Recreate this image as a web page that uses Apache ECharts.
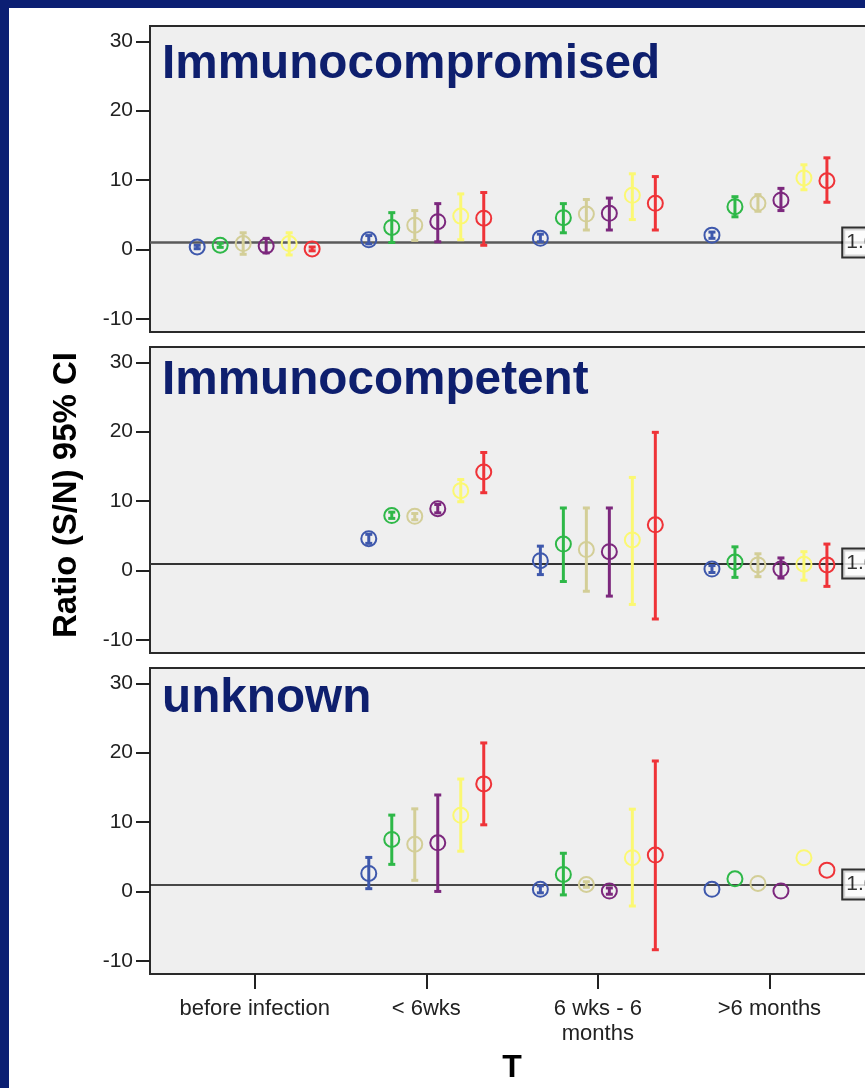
<!DOCTYPE html>
<html><head><meta charset="utf-8">
<script src="https://cdn.jsdelivr.net/npm/echarts@6/dist/echarts.min.js"></script>
<style>
html,body{margin:0;padding:0;background:#0b1f73;overflow:hidden;width:865px;height:1088px;}
#bg{position:absolute;left:9px;top:8px;width:856px;height:1080px;background:#fff;}
#chart{position:absolute;left:0;top:0;width:960px;height:1088px;}
</style></head><body><div id="bg"></div><div id="chart"></div>
<script>
// ---------------- data ----------------
const categories = ['before infection', '< 6wks', '6 wks - 6\nmonths', '>6 months'];
const seriesNames = ['Series 1', 'Series 2', 'Series 3', 'Series 4', 'Series 5', 'Series 6'];
const seriesColors = ['#3E58AC', '#2EB848', '#D3CE97', '#7C287D', '#FBF873', '#EF3338'];
const panelTitles = ['Immunocompromised', 'Immunocompetent', 'unknown'];
const yTicks = [-10, 0, 10, 20, 30];
const refValue = 1;
const refLabel = '1.0';

// Immunocompromised: [series][category]
const compMean = [
  [0.36, 1.38, 1.6, 2.06],
  [0.6, 3.17, 4.57, 6.16],
  [0.85, 3.5, 5.1, 6.65],
  [0.5, 4.0, 5.2, 7.1],
  [0.85, 4.8, 7.8, 10.3],
  [0.07, 4.5, 6.65, 9.9]
];
const compLow = [
  [0.1, 0.8, 1.1, 1.6],
  [0.3, 1.0, 2.4, 4.7],
  [-0.7, 1.3, 2.8, 5.5],
  [-0.5, 1.1, 2.8, 5.6],
  [-0.8, 1.4, 4.3, 8.6],
  [-0.2, 0.6, 2.8, 6.8]
];
const compHigh = [
  [0.6, 2.0, 2.2, 2.5],
  [0.9, 5.3, 6.6, 7.6],
  [2.4, 5.6, 7.2, 7.9],
  [1.6, 6.6, 7.4, 8.8],
  [2.4, 8.0, 10.9, 12.2],
  [0.35, 8.2, 10.5, 13.2]
];

// Immunocompetent
const competMean = [
  [null, 4.57, 1.4, 0.2],
  [null, 7.9, 3.8, 1.2],
  [null, 7.8, 3.0, 0.8],
  [null, 8.9, 2.7, 0.2],
  [null, 11.5, 4.4, 0.9],
  [null, 14.2, 6.57, 0.8]
];
const competLow = [
  [null, 3.9, -0.6, -0.3],
  [null, 7.5, -1.6, -1.0],
  [null, 7.3, -3.0, -0.9],
  [null, 8.3, -3.7, -1.1],
  [null, 9.9, -4.9, -1.4],
  [null, 11.2, -7.0, -2.3]
];
const competHigh = [
  [null, 5.2, 3.5, 0.7],
  [null, 8.4, 9.0, 3.4],
  [null, 8.2, 9.0, 2.4],
  [null, 9.5, 9.0, 1.8],
  [null, 13.1, 13.4, 2.7],
  [null, 17.0, 19.9, 3.8]
];

// unknown
const unkMean = [
  [null, 2.6, 0.3, 0.3],
  [null, 7.5, 2.45, 1.83],
  [null, 6.8, 1.0, 1.15],
  [null, 7.0, 0.05, 0.05],
  [null, 10.97, 4.86, 4.86],
  [null, 15.5, 5.24, 3.07]
];
const unkLow = [
  [null, 0.4, -0.2, null],
  [null, 3.9, -0.5, null],
  [null, 1.6, 0.6, null],
  [null, 0.0, -0.4, null],
  [null, 5.8, -2.1, null],
  [null, 9.6, -8.4, null]
];
const unkHigh = [
  [null, 4.9, 0.8, null],
  [null, 11.0, 5.5, null],
  [null, 11.9, 1.4, null],
  [null, 13.9, 0.5, null],
  [null, 16.2, 11.85, null],
  [null, 21.4, 18.8, null]
];

// ---------------- layout ----------------
const panels = [
  { mean: compMean, low: compLow, high: compHigh, top: 26, titleY: 41, refColor: '#5a5a5a', refWidth: 2.5 },
  { mean: competMean, low: competLow, high: competHigh, top: 347, titleY: 357, refColor: '#333', refWidth: 2 },
  { mean: unkMean, low: unkLow, high: unkHigh, top: 668, titleY: 675, refColor: '#111', refWidth: 1.6 }
];
const gridLeft = 150, gridWidth = 755, gridHeight = 306;
const xMin = 0.39, xMax = 4.79;
const yMin = -11.9, yMax = 32.2;
const clusterStep = 0.134;
const refLabelX = 4.43;
const textFont = "'Liberation Sans Narrow', 'Liberation Sans', Arial, sans-serif";
const boldFont = "'Liberation Sans', Arial, sans-serif";

const grids = [], xAxes = [], yAxes = [], series = [], graphics = [];

panels.forEach((p, pi) => {
  grids.push({
    left: gridLeft, top: p.top, width: gridWidth, height: gridHeight,
    show: true, backgroundColor: '#efefef', borderColor: '#2a2a2a', borderWidth: 2,
    containLabel: false
  });
  const isBottom = pi === panels.length - 1;
  xAxes.push({
    type: 'value', gridIndex: pi, min: xMin, max: xMax, position: 'bottom',
    splitLine: { show: false },
    axisLine: { show: false, onZero: false },
    axisTick: { show: isBottom, inside: false, customValues: [1, 2, 3, 4], length: 15, lineStyle: { color: '#222', width: 2 } },
    axisLabel: {
      show: isBottom, customValues: [1, 2, 3, 4], margin: 22,
      formatter: v => categories[Math.round(v) - 1] || '',
      fontFamily: textFont, fontSize: 22, color: '#222', lineHeight: 25
    }
  });
  yAxes.push({
    type: 'value', gridIndex: pi, min: yMin, max: yMax,
    splitLine: { show: false },
    axisLine: { show: false, onZero: false },
    axisTick: { show: true, customValues: yTicks, length: 14, lineStyle: { color: '#222', width: 2 } },
    axisLabel: { customValues: yTicks, margin: 17, fontFamily: textFont, fontSize: 21, color: '#222' }
  });

  seriesColors.forEach((color, si) => {
    const pts = [], bars = [];
    categories.forEach((c, ci) => {
      const x = (ci + 1) + (si - 2.5) * clusterStep;
      if (p.mean[si][ci] != null) pts.push([x, p.mean[si][ci]]);
      if (p.low[si][ci] != null) bars.push([x, p.low[si][ci], p.high[si][ci]]);
    });
    series.push({
      type: 'custom', name: seriesNames[si], xAxisIndex: pi, yAxisIndex: pi,
      data: bars, z: 3, silent: true,
      renderItem: (params, api) => {
        const top = api.coord([api.value(0), api.value(2)]);
        const bot = api.coord([api.value(0), api.value(1)]);
        const hw = 3.5;
        const st = { stroke: color, lineWidth: 3 };
        return {
          type: 'group', children: [
            { type: 'line', shape: { x1: top[0], y1: top[1], x2: bot[0], y2: bot[1] }, style: st },
            { type: 'line', shape: { x1: top[0] - hw, y1: top[1], x2: top[0] + hw, y2: top[1] }, style: st },
            { type: 'line', shape: { x1: bot[0] - hw, y1: bot[1], x2: bot[0] + hw, y2: bot[1] }, style: st }
          ]
        };
      }
    });
    const sc = {
      type: 'scatter', name: seriesNames[si], xAxisIndex: pi, yAxisIndex: pi,
      data: pts, symbol: 'circle', symbolSize: 15, z: 4, silent: true,
      itemStyle: { color: 'rgba(0,0,0,0)', borderColor: color, borderWidth: 2, opacity: 1 }
    };
    if (si === 0) {
      sc.markLine = {
        silent: true, symbol: 'none', z: 2,
        label: { show: false },
        lineStyle: { color: p.refColor, width: p.refWidth, type: 'solid' },
        data: [{ yAxis: refValue }]
      };
    }
    series.push(sc);
  });

  series.push({
    type: 'scatter', xAxisIndex: pi, yAxisIndex: pi, silent: true, z: 5,
    data: [[refLabelX, refValue]], symbolSize: 0,
    label: {
      show: true, position: 'right', distance: 0, formatter: refLabel,
      fontFamily: textFont, fontSize: 21, color: '#000',
      backgroundColor: '#fff', borderColor: '#000', borderWidth: 2, padding: [4, 3, 3, 3]
    }
  });

  graphics.push({
    type: 'text', left: 162, top: p.titleY, z: 10,
    style: { text: panelTitles[pi], font: "bold 47.7px " + boldFont, fill: '#0e1f6e' }
  });
});

graphics.push({
  type: 'text', x: 67, y: 495, rotation: Math.PI / 2, z: 10,
  style: { text: 'Ratio (S/N) 95% CI', font: "bold 33px " + boldFont, fill: '#000', align: 'center', verticalAlign: 'middle' }
});
graphics.push({
  type: 'text', x: 512, y: 1068, z: 10,
  style: { text: 'T', font: "bold 32px " + boldFont, fill: '#000', align: 'center', verticalAlign: 'middle' }
});

const chart = echarts.init(document.getElementById('chart'), null, { renderer: 'canvas' });
chart.setOption({
  backgroundColor: 'transparent',
  animation: false,
  grid: grids, xAxis: xAxes, yAxis: yAxes, series: series, graphic: graphics
});
</script></body></html>
